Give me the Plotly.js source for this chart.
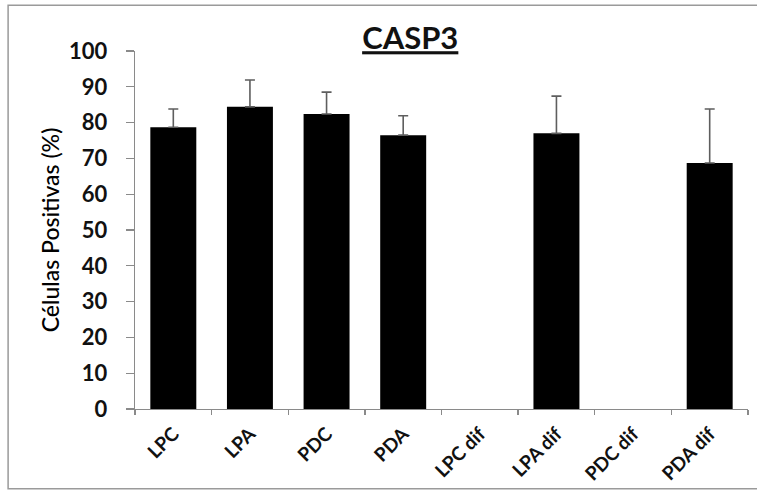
<!DOCTYPE html>
<html>
<head>
<meta charset="utf-8">
<script src="https://cdn.plot.ly/plotly-3.0.1.min.js"></script>
<style>html,body{margin:0;padding:0;background:#fff;}#chart{width:757px;height:492px;}</style>
</head>
<body>
<div id="chart"></div>
<script>
var categories = ["LPC", "LPA", "PDC", "PDA", "LPC dif", "LPA dif", "PDC dif", "PDA dif"];
var values = [78.7, 84.4, 82.4, 76.5, null, 77.0, null, 68.7];
var errorsPlus = [5.1, 7.5, 6.1, 5.4, null, 10.4, null, 15.1];
var yTicks = [0, 10, 20, 30, 40, 50, 60, 70, 80, 90, 100];
var chartTitle = "CASP3";
var yTitle = "Células Positivas (%)";

var trace = {
  type: "bar",
  x: categories,
  y: values,
  marker: {color: "#000000", line: {color: "#000000", width: 0}},
  error_y: {
    type: "data",
    symmetric: false,
    array: errorsPlus,
    arrayminus: errorsPlus.map(function(){return 0;}),
    color: "#5e5e5e",
    thickness: 1.6,
    width: 5
  },
  hoverinfo: "none"
};

var FONT = "Lato, 'Open Sans', sans-serif";

var layout = {
  width: 757,
  height: 492,
  margin: {l: 135, r: 9, t: 51, b: 83, pad: 0},
  paper_bgcolor: "#ffffff",
  plot_bgcolor: "#ffffff",
  showlegend: false,
  bargap: 0.4,
  font: {family: FONT, color: "#111111"},
  title: {
    text: "<b><u>" + chartTitle + "</u></b>",
    font: {size: 31, family: FONT, color: "#111111"},
    x: 0.449, xref: "paper", xanchor: "center",
    y: 0.922, yref: "container", yanchor: "middle"
  },
  xaxis: {
    type: "category",
    categoryorder: "array",
    categoryarray: categories,
    tickangle: -45,
    tickfont: {size: 19, family: FONT, color: "#111111", weight: "bold"},
    ticklabelstandoff: 5,
    showline: true, linecolor: "#8a8a8a", linewidth: 1.3,
    ticks: "outside", tickson: "boundaries", ticklen: 5, tickcolor: "#8a8a8a", tickwidth: 1.3,
    showgrid: false, zeroline: false,
    fixedrange: true
  },
  yaxis: {
    range: [0, 100],
    tickvals: yTicks,
    ticktext: yTicks.map(String),
    tickfont: {size: 22, family: FONT, color: "#111111", weight: "bold"},
    ticklabelstandoff: 14,
    showline: true, linecolor: "#8a8a8a", linewidth: 1.3,
    ticks: "outside", ticklen: 8, tickcolor: "#8a8a8a", tickwidth: 1.3,
    showgrid: false, zeroline: false,
    title: {text: yTitle, font: {size: 23, family: FONT, color: "#000000", weight: 500}, standoff: 3},
    fixedrange: true
  },
  shapes: [{
    type: "rect", xref: "paper", yref: "paper",
    x0: -0.207, x1: 1.05, y0: -0.223, y1: 1.128,
    line: {color: "#9a9a9a", width: 1.5}, fillcolor: "rgba(0,0,0,0)", layer: "below"
  }]
};

Plotly.newPlot("chart", [trace], layout, {displayModeBar: false, staticPlot: true});
</script>
</body>
</html>
